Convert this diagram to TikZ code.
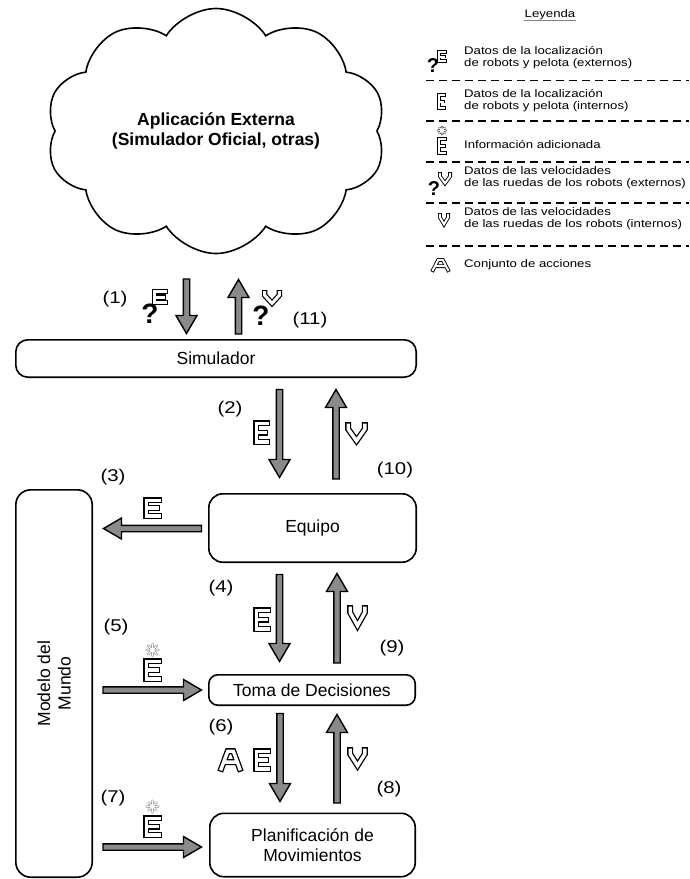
\documentclass[tikz,border=0pt]{standalone}
\usepackage{fontspec}
\setmainfont{Liberation Sans}
\newfontfamily\sqfont[FakeStretch=1.2]{Liberation Sans}
\usetikzlibrary{shapes.symbols}
\definecolor{arrowgray}{RGB}{138,138,138}
\definecolor{astgray}{RGB}{120,120,120}

% block arrow between two named coordinates
\newcommand\barr[2]{%
  \path (#1); \pgfgetlastxy{\ArXa}{\ArYa}%
  \path (#2); \pgfgetlastxy{\ArXb}{\ArYb}%
  \pgfmathsetmacro\ArAng{atan2((\ArYb)-(\ArYa),(\ArXb)-(\ArXa))}%
  \pgfmathsetmacro\ArLen{veclen((\ArXb)-(\ArXa),(\ArYb)-(\ArYa))}%
  \pgfmathsetmacro\ArBase{\ArLen-18}%
  \draw[barrow, shift={(\ArXa,\ArYa)}, rotate=\ArAng]
    (0pt,-3.2pt) -- (\ArBase pt,-3.2pt) -- (\ArBase pt,-10.5pt) -- (\ArLen pt,0pt)
    -- (\ArBase pt,10.5pt) -- (\ArBase pt,3.2pt) -- (0pt,3.2pt) -- cycle;}
% outlined glyphs: style, x, y, w, h (centre-line box)
\newcommand\glE[5]{\draw[#1] ({#2+#4},#3) -- (#2,#3) -- (#2,{#3+#5}) -- ({#2+#4},{#3+#5})
  (#2,{#3+#5/2}) -- ({#2+0.85*#4},{#3+#5/2});}
\newcommand\glV[5]{\draw[#1] (#2,#3) -- (#2,{#3+0.25*#5}) -- ({#2+#4/2},{#3+#5})
  -- ({#2+#4},{#3+0.25*#5}) -- ({#2+#4},#3);}
\newcommand\glA[5]{\draw[#1] (#2,{#3+#5}) -- ({#2+0.35*#4},#3) -- ({#2+0.65*#4},#3)
  -- ({#2+#4},{#3+#5}) ({#2+0.2*#4},{#3+0.62*#5}) -- ({#2+0.8*#4},{#3+0.62*#5});}
\newcommand\astr[4]{\draw[#1] ({#2-#4},#3) -- ({#2+#4},#3) (#2,{#3-#4}) -- (#2,{#3+#4})
  ({#2-0.7*#4},{#3-0.7*#4}) -- ({#2+0.7*#4},{#3+0.7*#4})
  ({#2-0.7*#4},{#3+0.7*#4}) -- ({#2+0.7*#4},{#3-0.7*#4});}

\begin{document}
\begin{tikzpicture}[x=1pt, y=-1pt, line join=miter,
  box/.style={draw, line width=1.6pt, font=\fontsize{17.5}{20.5}\selectfont, align=center, inner sep=0pt},
  barrow/.style={draw, line width=1.4pt, fill=arrowgray, line join=miter},
  num/.style={font=\sqfont\fontsize{17}{19}\selectfont, inner sep=0pt},
  legtext/.style={font=\sqfont\fontsize{11}{12}\selectfont, anchor=west, align=left, inner sep=0pt},
  gbig/.style={draw=black, double=white, line width=1.3pt, double distance=3.4pt, line cap=rect},
  gmed/.style={draw=black, double=white, line width=1.2pt, double distance=3pt, line cap=rect},
  gsmall/.style={draw=black, double=white, line width=0.9pt, double distance=2pt, line cap=rect},
  astbig/.style={draw=astgray, double=white, line width=0.55pt, double distance=1.3pt, line cap=round, line join=round},
  astsmall/.style={draw=black, double=white, line width=0.5pt, double distance=1.1pt, line cap=round, line join=round},
  qmark/.style={font=\bfseries\fontsize{28}{28}\selectfont, inner sep=0pt},
  qsmall/.style={font=\bfseries\fontsize{20}{20}\selectfont, inner sep=0pt},
  legdash/.style={line width=1.5pt, dash pattern=on 8pt off 5pt}]
\useasboundingbox (0,0) rectangle (689,879);

% cloud
\node[cloud, draw, line width=1.6pt, cloud puffs=10, cloud puff arc=115, cloud ignores aspect,
      minimum width=340pt, minimum height=245pt, inner sep=0pt,
      font=\bfseries\fontsize{17.5}{20.5}\selectfont, align=center]
      (app) at (216,131) {Aplicación Externa\\(Simulador Oficial, otras)};

% boxes
\node[box, rounded corners=12pt, minimum width=400.4pt, minimum height=37.4pt] (sim) at (216,358.5) {Simulador};
\node[box, rounded corners=14pt, minimum width=207.4pt, minimum height=68.4pt] (equipo) at (312.5,528) {Equipo};
\node[box, rounded corners=9pt, minimum width=206.4pt, minimum height=30.4pt] (toma) at (312,690) {Toma de Decisiones};
\node[box, rounded corners=14pt, minimum width=205.4pt, minimum height=63.4pt] (plan) at (312.5,845) {Planificación de\\Movimientos};
\node[box, rotate=90, rounded corners=15pt, minimum width=387.4pt, minimum height=76.4pt] (modelo) at (54,683.5) {Modelo del\\Mundo};

% arrow end points
\coordinate (a1s) at (186.5,279);   \coordinate (a1e) at (186.5,333.5);
\coordinate (a11s) at (238.5,334);  \coordinate (a11e) at (238.5,279.5);
\coordinate (a2s) at (279.5,389.5); \coordinate (a2e) at (279.5,477.5);
\coordinate (a10s) at (336,479);    \coordinate (a10e) at (336,389.5);
\coordinate (a3s) at (201.5,528.5); \coordinate (a3e) at (103.5,528.5);
\coordinate (a4s) at (279.5,574.5); \coordinate (a4e) at (279.5,661.5);
\coordinate (a9s) at (337,663);     \coordinate (a9e) at (337,573.5);
\coordinate (a5s) at (103,690);     \coordinate (a5e) at (201.5,690);
\coordinate (a6s) at (280,713.5);   \coordinate (a6e) at (280,801.5);
\coordinate (a8s) at (337,803);     \coordinate (a8e) at (337,714.5);
\coordinate (a7s) at (103,847);     \coordinate (a7e) at (201.5,847);

\barr{a1s}{a1e}
\barr{a11s}{a11e}
\barr{a2s}{a2e}
\barr{a10s}{a10e}
\barr{a3s}{a3e}
\barr{a4s}{a4e}
\barr{a9s}{a9e}
\barr{a5s}{a5e}
\barr{a6s}{a6e}
\barr{a8s}{a8e}
\barr{a7s}{a7e}

% glyphs on the arrows
\glE{gmed}{154.7}{291.7}{10.6}{10.6}
\node[qmark] (q1) at (150,314) {?};
\glV{gmed}{264.7}{292.7}{14.6}{10.6}
\node[qmark] (q11) at (261,316) {?};
\glE{gbig}{256.2}{423.2}{10.6}{18.6}
\glV{gbig}{348.2}{425.2}{16.6}{15.6}
\glE{gbig}{146.2}{500.2}{12.6}{15.6}
\glE{gbig}{256.2}{610.2}{11.6}{18.6}
\glV{gbig}{350.2}{608.2}{14.6}{17.4}
\astr{astbig}{152.5}{650}{6}
\glE{gbig}{146.2}{661.2}{12.6}{17.6}
\glA{gbig}{221.2}{751.2}{18.6}{17.6}
\glE{gbig}{256.2}{751.2}{11.6}{17.6}
\glV{gbig}{350.2}{750.2}{14.6}{15.4}
\astr{astbig}{152.5}{806.5}{5.8}
\glE{gbig}{146.2}{818.2}{12.6}{16.6}

% numbers
\node[num] (n1) at (115,299) {(1)};
\node[num] (n11) at (310,320) {(11)};
\node[num] (n2) at (230,409) {(2)};
\node[num] (n10) at (395,470) {(10)};
\node[num] (n3) at (113,477) {(3)};
\node[num] (n4) at (221,588) {(4)};
\node[num] (n9) at (392,648) {(9)};
\node[num] (n5) at (116,627) {(5)};
\node[num] (n6) at (221,727) {(6)};
\node[num] (n8) at (389,789) {(8)};
\node[num] (n7) at (113,798) {(7)};

% legend
\node[font=\sqfont\fontsize{11}{12}\selectfont, inner sep=0pt] (ley) at (550,15) {Leyenda};
\draw[gray, line width=1.2pt] ([yshift=-2.5pt]ley.base west) -- ([yshift=-2.5pt]ley.base east);
\node[legtext] (l1) at (464,58) {Datos de la localización\\de robots y pelota (externos)};
\node[legtext] (l2) at (464,101) {Datos de la localización\\de robots y pelota (internos)};
\node[legtext] (l3) at (464,144) {Información adicionada};
\node[legtext] (l4) at (464,178) {Datos de las velocidades\\de las ruedas de los robots (externos)};
\node[legtext] (l5) at (464,219) {Datos de las velocidades\\de las ruedas de los robots (internos)};
\node[legtext] (l6) at (464,265) {Conjunto de acciones};
\draw[legdash] (426,80.5) -- (689,80.5);
\draw[legdash] (426,121) -- (689,121);
\draw[legdash] (426,162) -- (689,162);
\draw[legdash] (426,203) -- (689,203);
\draw[legdash] (426,246) -- (689,246);

\glE{gsmall}{438.9}{51.9}{6.2}{9.2}
\node[qsmall] (lq1) at (433,66) {?};
\glE{gsmall}{438.9}{94.9}{5.2}{13.2}
\astr{astsmall}{442}{130.5}{3.8}
\glE{gsmall}{438.9}{138.9}{6.2}{14.2}
\glV{gsmall}{439.9}{173.9}{10.2}{9.4}
\node[qsmall] (lq4) at (434,189) {?};
\glV{gsmall}{439.9}{214.9}{8.2}{9.4}
\glA{gsmall}{432.9}{259.9}{15.2}{10.2}
\end{tikzpicture}
\end{document}
